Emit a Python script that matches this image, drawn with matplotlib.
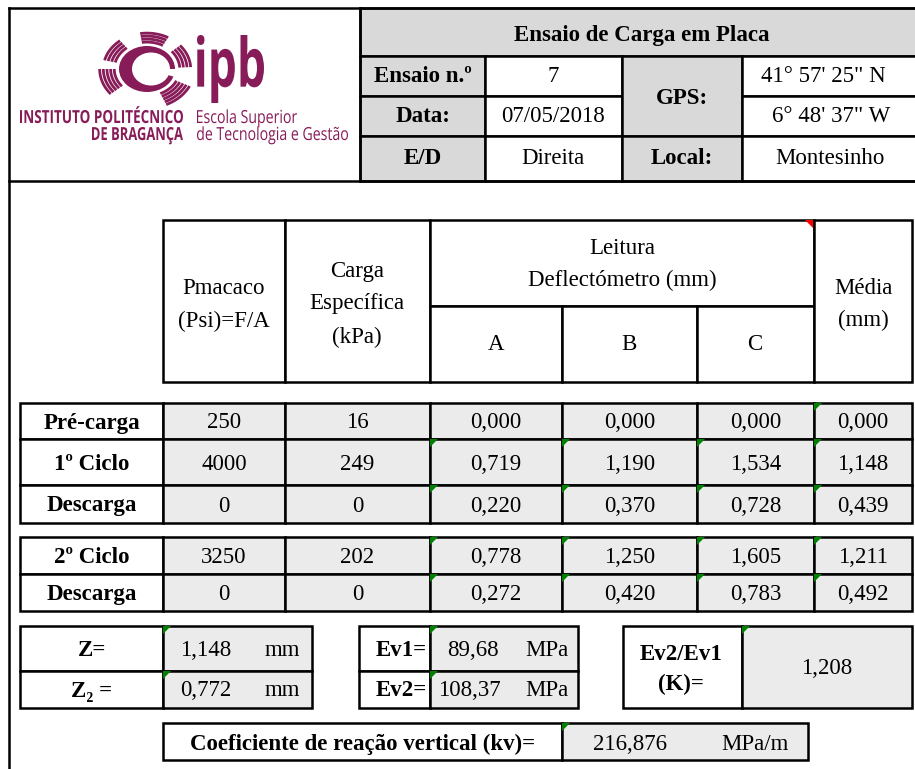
import numpy as np
import matplotlib
matplotlib.use("Agg")
import matplotlib.pyplot as plt
from matplotlib.patches import Rectangle, Polygon, Ellipse, PathPatch
from matplotlib.textpath import TextPath
from matplotlib.font_manager import FontProperties
from matplotlib.transforms import Affine2D

plt.rcParams['font.family'] = ['Liberation Serif', 'DejaVu Serif']

# ---- data read from the sheet ----
titulo = "Ensaio de Carga em Placa"
ensaio_num = "7"
data_ensaio = "07/05/2018"
lado = "Direita"
gps_lat = "41° 57' 25\" N"
gps_lon = "6° 48' 37\" W"
local = "Montesinho"

fases = ["Pré-carga", "1º Ciclo", "Descarga", "2º Ciclo", "Descarga"]
pmacaco = [250, 4000, 0, 3250, 0]
carga_esp = [16, 249, 0, 202, 0]
leit_a = [0.000, 0.719, 0.220, 0.778, 0.272]
leit_b = [0.000, 1.190, 0.370, 1.250, 0.420]
leit_c = [0.000, 1.534, 0.728, 1.605, 0.783]
media = [0.000, 1.148, 0.439, 1.211, 0.492]

z1 = 1.148
z2 = 0.772
ev1 = 89.68
ev2 = 108.37
k_ratio = 1.208
kv = 216.876

PURPLE = '#871c59'
GRAY = '#d9d9d9'
FILL = '#ebebeb'
GREEN = '#008000'
LW = 1.8
FS = 16.5
DY = 2  # visual centring of glyphs


def fmt(v, n):
    return f"{v:.{n}f}".replace('.', ',')


fig = plt.figure(figsize=(9.15, 7.69), dpi=100)
ax = fig.add_axes([0, 0, 1, 1])
ax.set_xlim(0, 915)
ax.set_ylim(769, 0)
ax.axis('off')


def cell(x0, x1, y0, y1, fc='white', lw=LW, z=1):
    ax.add_patch(Rectangle((x0, y0), x1 - x0, y1 - y0, facecolor=fc,
                           edgecolor='black', linewidth=lw, zorder=z))


def txt(x, y, s, bold=False, size=FS, **kw):
    ax.text(x, y + DY, s, ha='center', va='center', fontsize=size,
            fontweight='bold' if bold else 'normal', zorder=5, **kw)


def flag(x, y, color=GREEN, right=False):
    s = 8
    if right:
        pts = [(x, y), (x - s, y), (x, y + s)]
    else:
        pts = [(x, y), (x + s, y), (x, y + s)]
    ax.add_patch(Polygon(pts, closed=True, facecolor=color, edgecolor='none', zorder=6))


def path_text(s, left, right, base, size, weight='normal', family='Open Sans',
              top=None, bottom=None):
    tp = TextPath((0, 0), s, size=size, prop=FontProperties(family=family, weight=weight))
    bb = tp.get_extents()
    sx = (right - left) / bb.width
    if top is not None:
        sy = (bottom - top) / bb.height
        tr = Affine2D().translate(-bb.x0, -bb.y1).scale(sx, -sy).translate(left, top)
    else:
        tr = Affine2D().translate(-bb.x0, 0).scale(sx, -1).translate(left, base)
    ax.add_patch(PathPatch(tr.transform_path(tp), facecolor=PURPLE, edgecolor='none', zorder=5))


# ---- outer frame and header ----
ax.plot([9, 9], [8, 769], color='black', lw=LW, zorder=4)
ax.plot([9, 915], [8, 8], color='black', lw=LW, zorder=4)
ax.plot([9, 915], [181, 181], color='black', lw=LW, zorder=4)
ax.plot([360, 360], [8, 181], color='black', lw=LW, zorder=4)

cell(360, 920, 8, 56, GRAY)
txt(642, 33, titulo, bold=True)
hx = [360, 485, 622, 742, 920]
hy = [56, 96, 136, 181]
cell(hx[0], hx[1], hy[0], hy[1], GRAY)
cell(hx[0], hx[1], hy[1], hy[2], GRAY)
cell(hx[0], hx[1], hy[2], hy[3], GRAY)
cell(hx[1], hx[2], hy[0], hy[1])
cell(hx[1], hx[2], hy[1], hy[2])
cell(hx[1], hx[2], hy[2], hy[3])
cell(hx[2], hx[3], hy[0], hy[2], GRAY)
cell(hx[2], hx[3], hy[2], hy[3], GRAY)
cell(hx[3], hx[4], hy[0], hy[1])
cell(hx[3], hx[4], hy[1], hy[2])
cell(hx[3], hx[4], hy[2], hy[3])
txt(423, 75, "Ensaio n.º", bold=True)
txt(423, 115, "Data:", bold=True)
txt(423, 157, "E/D", bold=True)
txt(553, 75, ensaio_num)
txt(553, 115, data_ensaio)
txt(553, 157, lado)
txt(682, 96, "GPS:", bold=True)
txt(682, 157, "Local:", bold=True)
txt(823, 75, gps_lat)
txt(831, 115, gps_lon)
txt(830, 157, local)

# ---- logo ----
cx, cy, rx, ry = 147, 69, 28, 23
ax.add_patch(Ellipse((cx, cy), 2 * rx, 2 * ry, facecolor=PURPLE, edgecolor='none', zorder=3))
ax.add_patch(Ellipse((cx + 4, cy), 2 * rx - 18, 2 * ry - 13, facecolor='white', edgecolor='none', zorder=3))
gap = np.radians(np.linspace(-16, 0, 10))
ax.add_patch(Polygon([(cx, cy)] + [(cx + 34 * np.cos(a), cy - 34 * np.sin(a)) for a in gap],
                     facecolor='white', edgecolor='none', zorder=3))
teeth = [(147, 19, 4), (80, 19, 4), (22, 19, 4), (-46, 20, 5), (200, 20, 5)]
for ang, half, n in teeth:
    t = np.radians(np.linspace(ang - half, ang + half, 30))
    for i in range(n):
        k = 1.17 + 0.13 * i
        ax.plot(cx + k * rx * np.cos(t), cy - k * ry * np.sin(t), color=PURPLE,
                lw=2.0, solid_capstyle='butt', zorder=3)
path_text("ipb", 197, 264, None, 60, weight='bold', top=35, bottom=103)
path_text("INSTITUTO POLITÉCNICO", 20, 183, 123, 18, weight='bold')
path_text("DE BRAGANÇA", 92, 183, 140, 18, weight='bold')
path_text("Escola Superior", 197, 297, 123, 18)
path_text("de Tecnologia e Gestão", 197, 348, 140, 18)

# ---- column header table ----
cols = [20, 163, 285, 430, 562, 697, 814, 912]
cell(163, 285, 220, 382)
cell(285, 430, 220, 382)
cell(430, 814, 220, 306)
cell(430, 562, 306, 382)
cell(562, 697, 306, 382)
cell(697, 814, 306, 382)
cell(814, 912, 220, 382)
txt(224, 287, "Pmacaco")
txt(224, 319, "(Psi)=F/A")
txt(357, 270, "Carga")
txt(357, 302, "Específica")
txt(357, 335, "(kPa)")
txt(622, 247, "Leitura")
txt(622, 278, "Deflectómetro (mm)")
txt(496, 343, "A")
txt(629, 343, "B")
txt(755, 343, "C")
txt(863, 287, "Média")
txt(863, 318, "(mm)")
flag(813, 220, color='red', right=True)

# ---- readings ----
row_edges = [(403, 439), (439, 485), (485, 523), (537, 574), (574, 611)]
for i, (y0, y1) in enumerate(row_edges):
    yc = (y0 + y1) / 2
    values = [str(pmacaco[i]), str(carga_esp[i]), fmt(leit_a[i], 3),
              fmt(leit_b[i], 3), fmt(leit_c[i], 3), fmt(media[i], 3)]
    cell(cols[0], cols[1], y0, y1)
    txt((cols[0] + cols[1]) / 2, yc, fases[i], bold=True)
    for j, v in enumerate(values):
        x0, x1 = cols[j + 1], cols[j + 2]
        cell(x0, x1, y0, y1, FILL)
        txt((x0 + x1) / 2, yc, v)
        if j >= 2 and (i > 0 or j == 5):
            flag(x0, y0)

# ---- results ----
cell(20, 163, 626, 671)
cell(20, 163, 671, 708)
cell(163, 312, 626, 671, FILL)
cell(163, 312, 671, 708, FILL)
txt(92, 648, "Z=", bold=True)
txt(92, 689, "Z₂ =", bold=True)
txt(206, 648, fmt(z1, 3))
txt(282, 648, "mm")
txt(206, 689, fmt(z2, 3))
txt(282, 689, "mm")
flag(163, 626)
flag(163, 671)

cell(359, 430, 626, 671)
cell(359, 430, 671, 708)
cell(430, 578, 626, 671, FILL)
cell(430, 578, 671, 708, FILL)
txt(401, 648, "Ev1=", bold=True)
txt(401, 689, "Ev2=", bold=True)
txt(473, 648, fmt(ev1, 2))
txt(547, 648, "MPa")
txt(469, 689, fmt(ev2, 2))
txt(547, 689, "MPa")
flag(430, 626)
flag(430, 671)

cell(623, 742, 626, 708)
cell(742, 912, 626, 708, FILL)
txt(681, 652, "Ev2/Ev1", bold=True)
txt(681, 682, "(K)=", bold=True)
txt(827, 667, fmt(k_ratio, 3))
flag(742, 626)

cell(163, 562, 723, 760)
cell(562, 808, 723, 760, FILL)
txt(363, 742, "Coeficiente de reação vertical (kv)=", bold=True)
txt(630, 742, fmt(kv, 3))
txt(755, 742, "MPa/m")
flag(562, 723)

fig.savefig("out.png", dpi=100)
